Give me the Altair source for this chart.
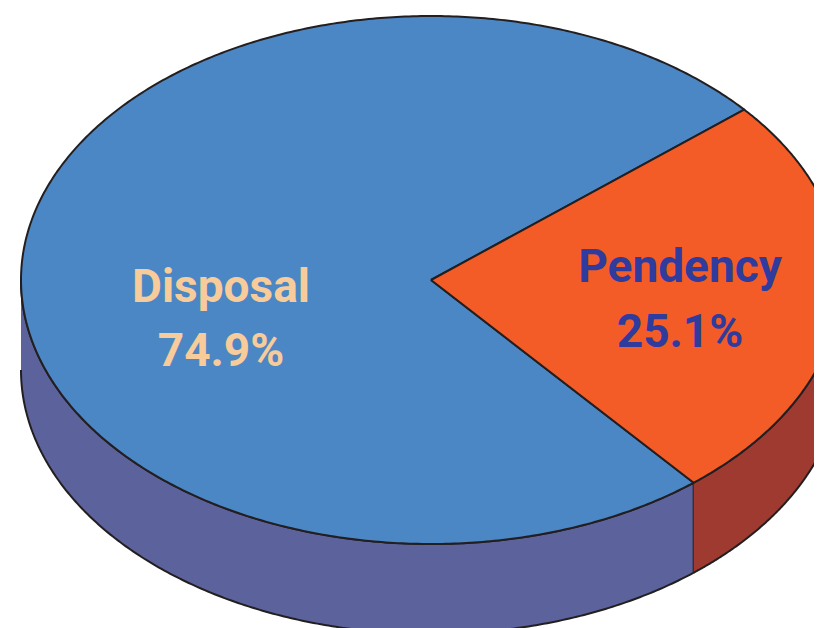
import numpy as np
import pandas as pd
import altair as alt

# Values
categories = ["Disposal", "Pendency"]
shares = [74.9, 25.1]
share_labels = ["74.9%", "25.1%"]
top_colors = ["#4C87C5", "#F35B27"]
side_colors = ["#5B629C", "#9E3A30"]
label_colors = ["#F8CB9A", "#2F3C9E"]
edge_color = "#231F20"

W, H = 806, 620
CX, CY, RX, RY = 423.0, 272.0, 410.0, 264.0   # ellipse in plot-area pixels
DEPTH = 90.0 / RY
START_DEG = 40.2                              # where Pendency begins (clockwise)

x_scale = alt.Scale(domain=[-CX / RX, (W - CX) / RX], range=[0, W], nice=False, zero=False)
y_scale = alt.Scale(domain=[(CY - H) / RY, CY / RY], range=[H, 0], nice=False, zero=False)


def arc(a0, a1, n=240):
    t = np.radians(np.linspace(a0, a1, n))
    return np.cos(t), np.sin(t)


def polygon(xs, ys, name):
    return pd.DataFrame({"x": xs, "y": ys, "i": np.arange(len(xs)), "name": name})


def shape(df, fill, width=2.0):
    return (
        alt.Chart(df)
        .mark_line(fill=fill, stroke=edge_color, strokeWidth=width, clip=True, strokeJoin="round")
        .encode(
            x=alt.X("x:Q", scale=x_scale, axis=None),
            y=alt.Y("y:Q", scale=y_scale, axis=None),
            order="i:Q",
        )
    )


split = START_DEG - shares[1] / 100 * 360   # lower boundary between the slices

# Side walls
bx, by = arc(-180, split)
side_blue = polygon(np.r_[bx, bx[::-1]], np.r_[by, by[::-1] - DEPTH], "Disposal side")
bx, by = arc(split, 0)
side_red = polygon(np.r_[bx, bx[::-1]], np.r_[by, by[::-1] - DEPTH], "Pendency side")

# Top slices
bx, by = arc(START_DEG, split + 360, 480)
top_blue = polygon(np.r_[0, bx, 0], np.r_[0, by, 0], categories[0])
bx, by = arc(split, START_DEG, 200)
top_orange = polygon(np.r_[0, bx, 0], np.r_[0, by, 0], categories[1])

layers = [
    shape(side_blue, side_colors[0]),
    shape(side_red, side_colors[1]),
    shape(top_blue, top_colors[0]),
    shape(top_orange, top_colors[1]),
]

label_x = [213.0, 672.0]
label_rows = [(280.0, 344.0), (260.0, 325.0)]
for k in range(2):
    for text, ypos in zip((categories[k], share_labels[k]), label_rows[k]):
        layers.append(
            alt.Chart(pd.DataFrame({"t": [text]}))
            .mark_text(
                font="Roboto",
                fontWeight="bold",
                fontSize=46,
                align="center",
                baseline="middle",
                color=label_colors[k],
            )
            .encode(text="t:N", x=alt.value(label_x[k]), y=alt.value(ypos))
        )

chart = (
    alt.layer(*layers)
    .properties(width=W, height=H, padding=0, autosize=alt.AutoSizeParams(type="none"))
    .configure_view(stroke=None)
)

chart.save("out.html", embed_options={"renderer": "svg", "actions": False})
